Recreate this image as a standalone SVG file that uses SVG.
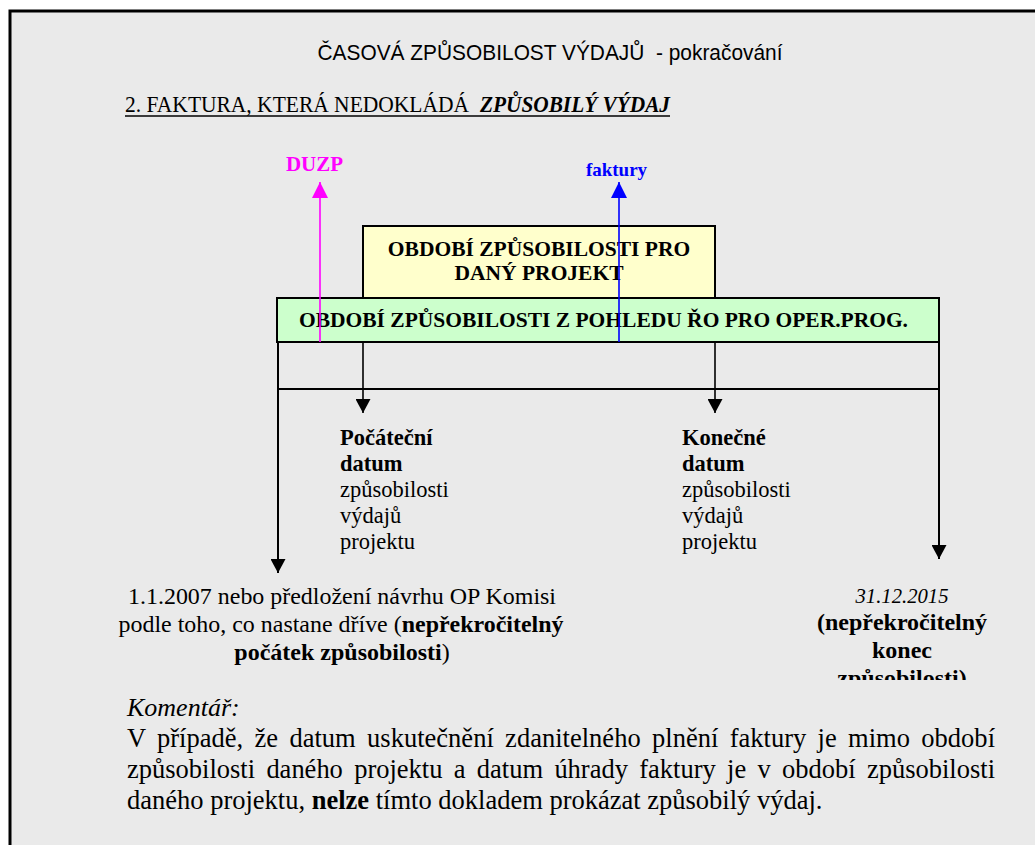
<svg xmlns="http://www.w3.org/2000/svg" width="1035" height="845" viewBox="0 0 1035 845">
<style>
.serif{font-family:"Liberation Serif","Times New Roman",serif;fill:#000}
.sans{font-family:"Liberation Sans",Arial,sans-serif;fill:#000}
.b{font-weight:bold}
.i{font-style:italic}
.box{stroke:#000;stroke-width:2}
.ln{stroke:#000;stroke-width:1.6;fill:none}
.frame{stroke:#000;stroke-width:2;fill:none}
</style>
<defs>
<marker id="ahBlack" markerUnits="userSpaceOnUse" markerWidth="15" markerHeight="15" refX="14" refY="7.5" orient="auto"><path d="M0,0 L14,7.5 L0,15 z" fill="#000"/></marker>
<marker id="ahMag" markerUnits="userSpaceOnUse" markerWidth="16" markerHeight="16" refX="16" refY="8" orient="auto"><path d="M0,0 L16,8 L0,16 z" fill="#FF00FF"/></marker>
<marker id="ahBlue" markerUnits="userSpaceOnUse" markerWidth="16" markerHeight="16" refX="16" refY="8" orient="auto"><path d="M0,0 L16,8 L0,16 z" fill="#0000FF"/></marker>
<clipPath id="clipEnd"><rect x="780" y="570" width="250" height="110"/></clipPath>
</defs>
<rect x="0" y="0" width="1035" height="845" fill="#FFFFFF"/>
<rect x="10" y="11" width="1040" height="850" fill="#EAEAEA" stroke="#000" stroke-width="3"/>

<g id="title">
<text class="sans" x="550" y="60" font-size="22.5" text-anchor="middle" textLength="465" lengthAdjust="spacingAndGlyphs" xml:space="preserve">ČASOVÁ ZPŮSOBILOST VÝDAJŮ  - pokračování</text>
</g>
<g id="subtitle">
<text class="serif" x="125" y="112" font-size="23" textLength="344" lengthAdjust="spacingAndGlyphs">2. FAKTURA, KTERÁ NEDOKLÁDÁ</text>
<text class="serif b i" x="480" y="112" font-size="23" textLength="190" lengthAdjust="spacingAndGlyphs">ZPŮSOBILÝ VÝDAJ</text>
<line x1="125" y1="116" x2="670" y2="116" stroke="#000" stroke-width="1.5"/>
</g>

<g id="label-duzp">
<text class="serif b" x="314.5" y="171" font-size="21" text-anchor="middle" style="fill:#FF00FF">DUZP</text>
</g>
<g id="label-faktury">
<text class="serif b" x="616.5" y="176" font-size="19" text-anchor="middle" style="fill:#0000FF">faktury</text>
</g>

<g id="box-project">
<rect class="box" x="363" y="226" width="352" height="72" fill="#FFFFCC"/>
<text class="serif b" x="539" y="256" font-size="21.5" text-anchor="middle">OBDOBÍ ZPŮSOBILOSTI PRO</text>
<text class="serif b" x="539" y="280" font-size="21.5" text-anchor="middle">DANÝ PROJEKT</text>
</g>
<g id="box-op">
<rect class="box" x="277" y="298" width="662" height="44" fill="#CCFFCC"/>
<text class="serif b" x="603.5" y="327" font-size="21.5" text-anchor="middle" textLength="609" lengthAdjust="spacingAndGlyphs">OBDOBÍ ZPŮSOBILOSTI Z POHLEDU ŘO PRO OPER.PROG.</text>
</g>

<g id="connectors">
<line x1="320" y1="342" x2="320" y2="182" stroke="#FF00FF" stroke-width="1.6" marker-end="url(#ahMag)"/>
<line x1="619" y1="342" x2="619" y2="182" stroke="#0000FF" stroke-width="1.6" marker-end="url(#ahBlue)"/>
<line class="frame" x1="277" y1="389" x2="939" y2="389"/>
<line class="frame" x1="278" y1="342" x2="278" y2="573" marker-end="url(#ahBlack)"/>
<line class="frame" x1="939" y1="342" x2="939" y2="559" marker-end="url(#ahBlack)"/>
<line class="ln" x1="363" y1="342" x2="363" y2="413" marker-end="url(#ahBlack)"/>
<line class="ln" x1="715" y1="342" x2="715" y2="413" marker-end="url(#ahBlack)"/>
</g>

<g id="label-start-project">
<text class="serif" font-size="22.5">
<tspan class="b" x="340" y="445">Počáteční</tspan>
<tspan class="b" x="340" y="471">datum</tspan>
<tspan x="340" y="497">způsobilosti</tspan>
<tspan x="340" y="523">výdajů</tspan>
<tspan x="340" y="549">projektu</tspan>
</text>
</g>
<g id="label-end-project">
<text class="serif" font-size="22.5">
<tspan class="b" x="682" y="445">Konečné</tspan>
<tspan class="b" x="682" y="471">datum</tspan>
<tspan x="682" y="497">způsobilosti</tspan>
<tspan x="682" y="523">výdajů</tspan>
<tspan x="682" y="549">projektu</tspan>
</text>
</g>

<g id="label-start-limit">
<text class="serif" x="342" y="604" font-size="24" text-anchor="middle" textLength="428" lengthAdjust="spacingAndGlyphs">1.1.2007 nebo předložení návrhu OP Komisi</text>
<text class="serif" x="341" y="632" font-size="24" text-anchor="middle" textLength="445" lengthAdjust="spacingAndGlyphs">podle toho, co nastane dříve (<tspan class="b">nepřekročitelný</tspan></text>
<text class="serif" x="342" y="660" font-size="24" text-anchor="middle"><tspan class="b">počátek způsobilosti</tspan>)</text>
</g>

<g id="label-end-limit" clip-path="url(#clipEnd)">
<text class="serif i" x="902" y="603" font-size="22" text-anchor="middle" textLength="93" lengthAdjust="spacingAndGlyphs">31.12.2015</text>
<text class="serif b" x="902" y="630" font-size="24" text-anchor="middle">(nepřekročitelný</text>
<text class="serif b" x="902" y="658" font-size="24" text-anchor="middle">konec</text>
<text class="serif b" x="902" y="686" font-size="24" text-anchor="middle">způsobilosti)</text>
</g>

<g id="comment">
<text class="serif i" x="127" y="716" font-size="26">Komentář:</text>
<text class="serif" x="127" y="747" font-size="26.5" word-spacing="4.7" textLength="868" lengthAdjust="spacing">V případě, že datum uskutečnění zdanitelného plnění faktury je mimo období</text>
<text class="serif" x="127" y="778" font-size="26.5" word-spacing="4.7" textLength="868" lengthAdjust="spacing">způsobilosti daného projektu a datum úhrady faktury je v období způsobilosti</text>
<text class="serif" x="127" y="809" font-size="26.5">daného projektu, <tspan class="b">nelze</tspan> tímto dokladem prokázat způsobilý výdaj.</text>
</g>
</svg>
